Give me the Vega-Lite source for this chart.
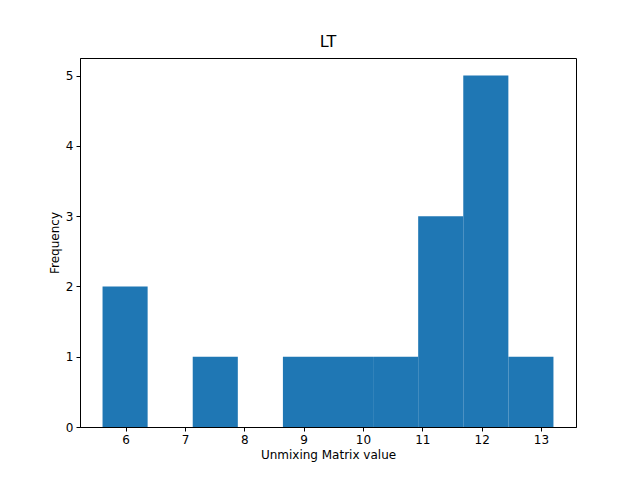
{
  "$schema": "https://vega.github.io/schema/vega-lite/v6.json",
  "width": 496, "height": 369,
  "autosize": "none",
  "padding": {"left": 80, "top": 58, "right": 64, "bottom": 53},
  "title": {"text": "LT", "fontSize": 16, "font": "DejaVu Sans", "fontWeight": "normal", "offset": 8},
  "data": {"values": [
    {"a": 5.61, "b": 6.37, "n": 2},
    {"a": 7.13, "b": 7.89, "n": 1},
    {"a": 8.65, "b": 9.41, "n": 1},
    {"a": 9.41, "b": 10.17, "n": 1},
    {"a": 10.17, "b": 10.93, "n": 1},
    {"a": 10.93, "b": 11.69, "n": 3},
    {"a": 11.69, "b": 12.45, "n": 5},
    {"a": 12.45, "b": 13.21, "n": 1}
  ]},
  "mark": {"type": "bar", "color": "#1f77b4"},
  "encoding": {
    "x": {"field": "a", "type": "quantitative", "title": "Unmixing Matrix value",
      "scale": {"domain": [5.23, 13.59], "nice": false, "zero": false},
      "axis": {"values": [6,7,8,9,10,11,12,13], "grid": false}},
    "x2": {"field": "b"},
    "y": {"field": "n", "type": "quantitative", "title": "Frequency",
      "scale": {"domain": [0, 5.25], "nice": false},
      "axis": {"values": [0,1,2,3,4,5], "grid": false}},
    "y2": {"datum": 0}
  },
  "config": {
    "view": {"stroke": "black", "strokeWidth": 1},
    "axis": {"labelFont": "DejaVu Sans", "titleFont": "DejaVu Sans", "labelFontSize": 12, "titleFontSize": 12,
      "titleFontWeight": "normal", "labelColor": "black", "titleColor": "black", "domainColor": "black",
      "tickColor": "black", "tickSize": 4, "labelPadding": 3}
  }
}
